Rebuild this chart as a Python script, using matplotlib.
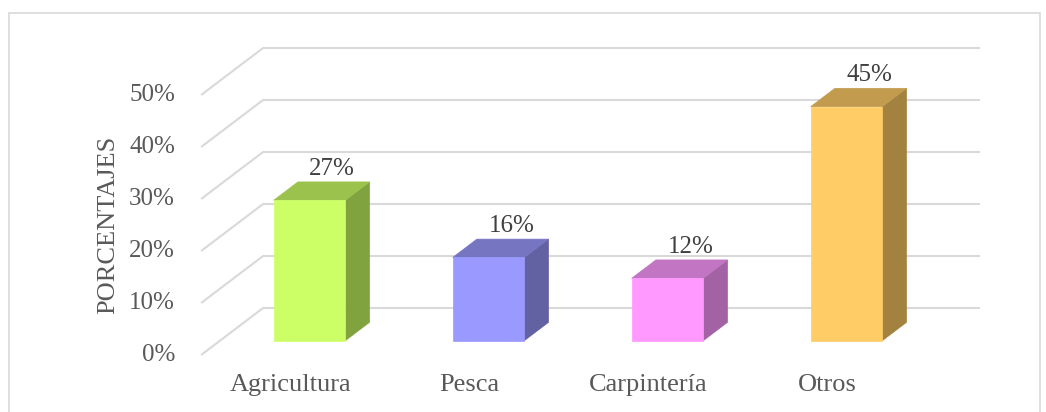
import matplotlib
matplotlib.use("Agg")
import matplotlib.pyplot as plt
from matplotlib.patches import Rectangle, Polygon

# ---- data ----
categories = ["Agricultura", "Pesca", "Carpintería", "Otros"]
values = [27, 16, 12, 45]
value_labels = ["27%", "16%", "12%", "45%"]
yticks = [0, 10, 20, 30, 40, 50]
ytick_labels = ["0%", "10%", "20%", "30%", "40%", "50%"]

front_colors = ["#CCFF66", "#9999FF", "#FF99FF", "#FFCC66"]
top_colors = ["#9CC24E", "#7575C2", "#C275C2", "#C29B4E"]
side_colors = ["#80A33F", "#6262A3", "#A362A3", "#A3823F"]

# ---- style ----
plt.rcParams['font.family'] = ['Liberation Serif', 'DejaVu Serif']
TXT = "#595959"
GRID = "#D9D9D9"

W, H = 1046, 412
fig = plt.figure(figsize=(W / 100, H / 100), dpi=100)
ax = fig.add_axes([0, 0, 1, 1])
ax.set_axis_off()

# front-plane mapping (category units, percent units)
px_per_cat = 179.0
px_per_pct = 5.2
x0_px, y0_px = 290.6, 355.0
ax.set_xlim(-x0_px / px_per_cat, (W - x0_px) / px_per_cat)
ax.set_ylim((y0_px - H) / px_per_pct, y0_px / px_per_pct)

# depth projection: z = 0 front, z = 1 back wall
kx = 62.0 / px_per_cat
ky = 47.0 / px_per_pct


def proj(x, y, z):
    return x + z * kx, y + z * ky


xl, xr = -0.5, 3.505

# gridlines: back wall + left wall diagonals
for t in yticks:
    a = proj(xl, t, 0)
    b = proj(xl, t, 1)
    c = proj(xr, t, 1)
    ax.plot([a[0], b[0], c[0]], [a[1], b[1], c[1]], color=GRID, lw=1.5,
            solid_capstyle='butt', zorder=1)

# bars
bw = 0.4
zf, zb = 0.305, 0.695
for i, v in enumerate(values):
    xa, xb = i - bw / 2, i + bw / 2
    front = [proj(xa, 0, zf), proj(xb, 0, zf), proj(xb, v, zf), proj(xa, v, zf)]
    side = [proj(xb, 0, zf), proj(xb, 0, zb), proj(xb, v, zb), proj(xb, v, zf)]
    top = [proj(xa, v, zf), proj(xb, v, zf), proj(xb, v, zb), proj(xa, v, zb)]
    for poly, col in ((side, side_colors[i]), (top, top_colors[i]), (front, front_colors[i])):
        ax.add_patch(Polygon(poly, closed=True, facecolor=col, edgecolor=col,
                             lw=0.5, zorder=3))
    lx, ly = proj(i, v, zb)
    ax.annotate(value_labels[i], (lx, ly), xytext=(-1, 9.5), textcoords='offset points',
                ha='center', va='center', fontsize=18, color="#404040", zorder=4)

# y tick labels
for t, lab in zip(yticks, ytick_labels):
    ax.text(-0.646, t, lab, ha='right', va='center', fontsize=18, color=TXT)

# category labels
for i, c in enumerate(categories):
    ax.text(i, -5.8, c, ha='center', va='center', fontsize=19, color=TXT)

# y axis title
ax.text(-1.02, 25, "PORCENTAJES", rotation=90, ha='center', va='center',
        fontsize=19, color=TXT)

# chart border
fig.patches.append(Rectangle((9 / W, -0.05), (1040 - 9) / W, (H - 13) / H + 0.05,
                             transform=fig.transFigure, fill=False,
                             edgecolor=GRID, lw=1.2))

fig.savefig("out.png", dpi=100, facecolor="white")
